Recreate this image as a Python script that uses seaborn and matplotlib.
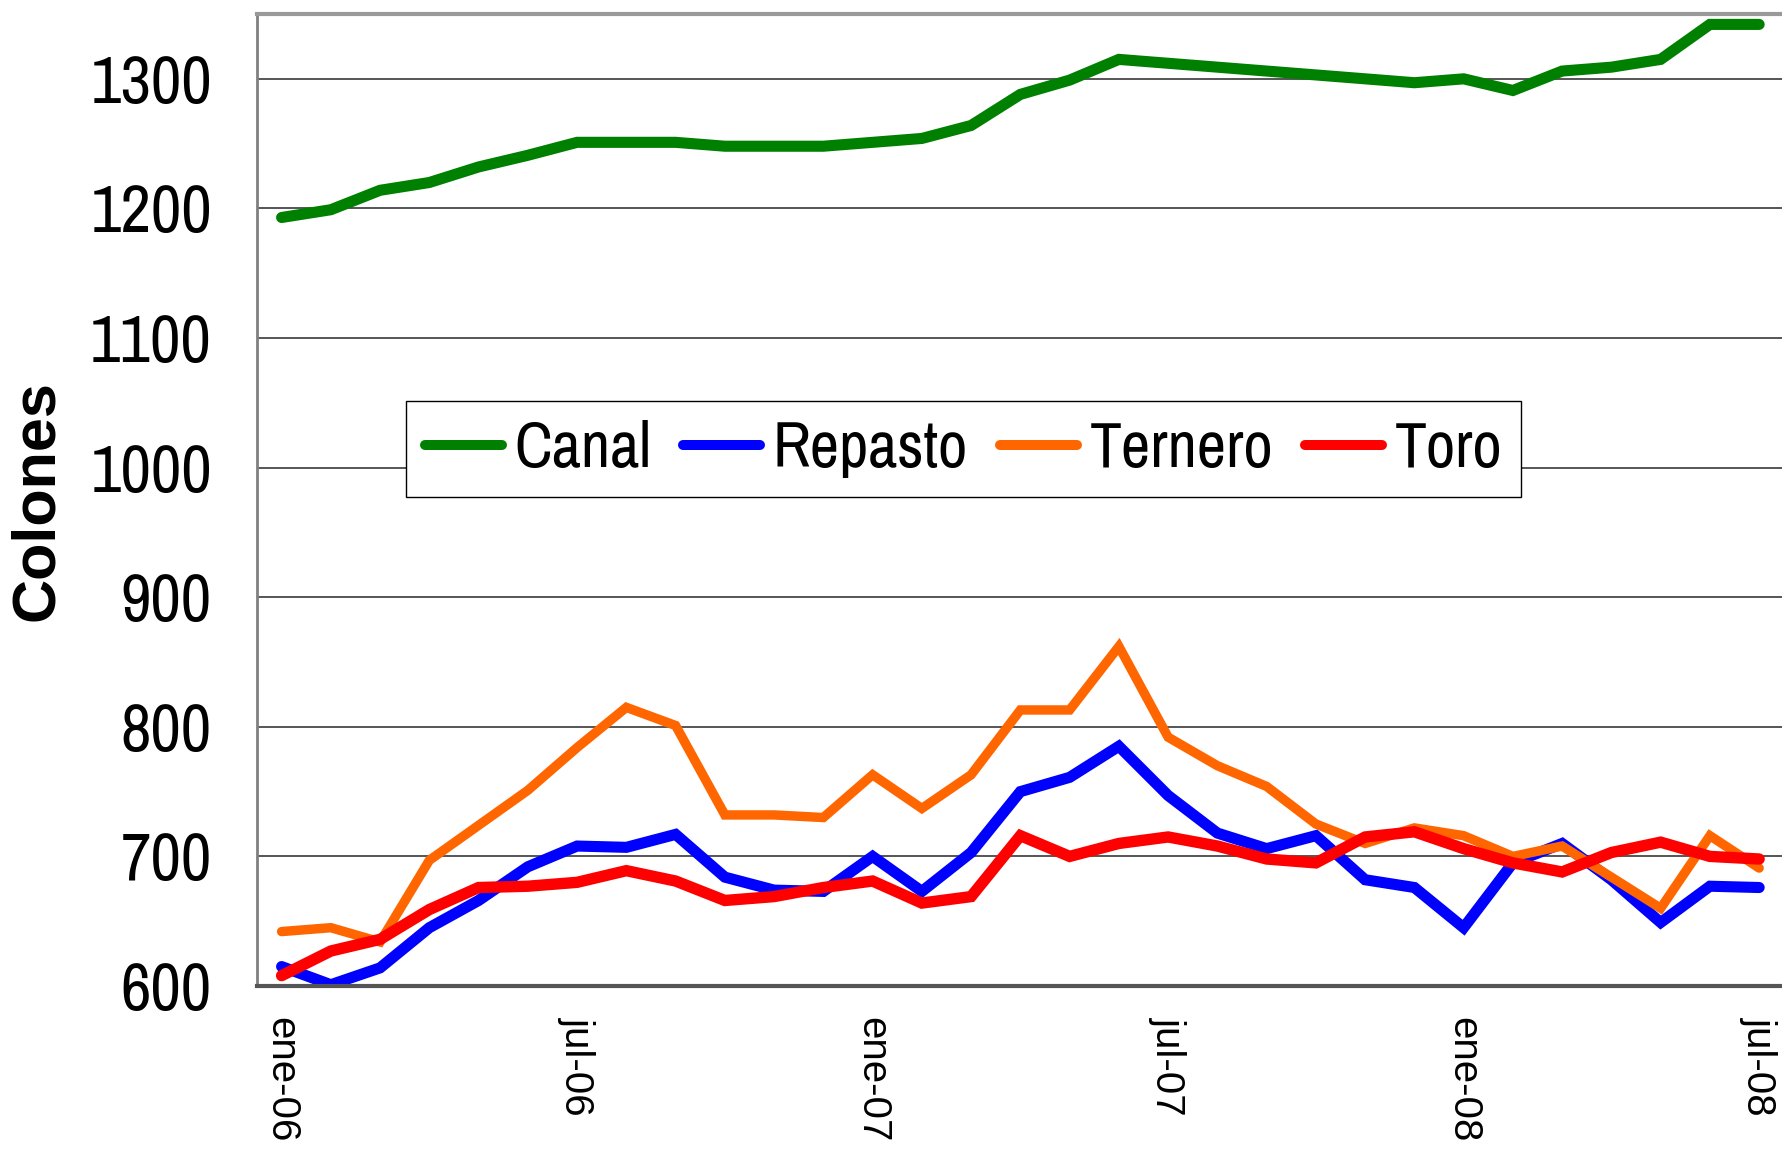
import pandas as pd
import numpy as np
import matplotlib
matplotlib.use('Agg')
import matplotlib.pyplot as plt
import seaborn as sns
from matplotlib.ticker import FixedLocator

# === Data (monthly, ene-06 .. jul-08) ===
months = ['ene-06', 'feb-06', 'mar-06', 'abr-06', 'may-06', 'jun-06',
          'jul-06', 'ago-06', 'sep-06', 'oct-06', 'nov-06', 'dic-06',
          'ene-07', 'feb-07', 'mar-07', 'abr-07', 'may-07', 'jun-07',
          'jul-07', 'ago-07', 'sep-07', 'oct-07', 'nov-07', 'dic-07',
          'ene-08', 'feb-08', 'mar-08', 'abr-08', 'may-08', 'jun-08',
          'jul-08']
canal = [1193, 1199, 1214, 1220, 1232, 1241, 1251, 1251, 1251, 1248, 1248,
         1248, 1251, 1254, 1264, 1288, 1299, 1315, 1312, 1309, 1306, 1303,
         1300, 1297, 1300, 1291, 1306, 1309, 1315, 1342, 1342]
repasto = [615, 601, 614, 645, 666, 692, 708, 707, 717, 684, 674, 673,
           700, 673, 703, 750, 761, 785, 747, 718, 706, 716, 682, 676,
           645, 695, 710, 682, 649, 677, 676]
ternero = [642, 645, 634, 697, 724, 751, 784, 815, 801, 732, 732, 730,
           763, 737, 763, 813, 813, 862, 792, 770, 754, 725, 710, 722,
           716, 700, 708, 684, 660, 716, 691]
toro = [608, 627, 636, 659, 676, 677, 680, 689, 681, 666, 669, 676,
        681, 664, 669, 716, 700, 710, 715, 708, 698, 695, 715, 719,
        706, 695, 688, 703, 711, 700, 698]

series_names = ['Canal', 'Repasto', 'Ternero', 'Toro']
series_vals = [canal, repasto, ternero, toro]
colors = ['#008000', '#0000FF', '#FF6600', '#FF0000']
widths = [8.0, 8.0, 6.8, 8.2]

tick_labels = ['ene-06', 'jul-06', 'ene-07', 'jul-07', 'ene-08', 'jul-08']

NARROW = ['Archivo Narrow', 'Liberation Sans', 'DejaVu Sans']
REGULAR = ['Liberation Sans', 'DejaVu Sans']

# === Long-form table for seaborn ===
rows = []
for name, vals in zip(series_names, series_vals):
    for i, v in enumerate(vals):
        rows.append({'idx': i, 'mes': months[i], 'serie': name, 'valor': v})
df = pd.DataFrame(rows)

sns.set_style('white')
plt.rcParams['font.family'] = REGULAR
plt.rcParams['text.color'] = 'black'
plt.rcParams['xtick.labelcolor'] = 'black'
plt.rcParams['ytick.labelcolor'] = 'black'

fig = plt.figure(figsize=(17.82, 11.5), dpi=100)
ax = fig.add_axes([0.1442, 0.1426, 0.8568, 0.8452])

for name, col, lw in zip(series_names, colors, widths):
    sub = df[df['serie'] == name]
    sns.lineplot(data=sub, x='idx', y='valor', color=col, linewidth=lw,
                 ax=ax, label=name, solid_capstyle='round', solid_joinstyle='miter')

ax.set_xlim(-0.5, len(months) - 0.5)
ax.set_ylim(600, 1350)

# y axis
ax.set_yticks(range(600, 1301, 100))
ax.tick_params(axis='y', which='major', length=11.5, width=1.5, color='#808080',
               pad=21, labelsize=48, labelfontfamily=NARROW)
for y in range(700, 1301, 100):
    ax.axhline(y, color='#555555', linewidth=1.4, zorder=0)

# x axis: labels at categories, ticks between categories
label_pos = [months.index(m) for m in tick_labels]
ax.set_xticks(label_pos)
ax.set_xticklabels(tick_labels, rotation=-90)
ax.xaxis.set_minor_locator(FixedLocator(np.arange(-0.5, len(months), 1.0)))
ax.tick_params(axis='x', which='major', length=0, pad=22, labelsize=29,
               labelfontfamily=REGULAR)
ax.tick_params(axis='x', which='minor', length=15, width=1.5, color='#333333')

ax.set_xlabel('')
ax.set_ylabel('')
fig.text(38 / 1782, 1 - 501 / 1150, 'Colones', rotation=90, ha='center', va='center',
         fontsize=44, fontweight='bold', family=REGULAR)

ax.spines['top'].set_visible(True)
ax.spines['top'].set_color('#999999')
ax.spines['top'].set_linewidth(3)
ax.spines['left'].set_color('#808080')
ax.spines['left'].set_linewidth(2)
ax.spines['bottom'].set_color('#555555')
ax.spines['bottom'].set_linewidth(3)
ax.spines['right'].set_visible(False)

leg = ax.legend(loc='center', bbox_to_anchor=(0.4627, 0.5525), ncol=4,
                prop={'family': NARROW, 'size': 46}, frameon=True, fancybox=False,
                framealpha=1, edgecolor='black', handlelength=1.2, handletextpad=0.2,
                columnspacing=0.5, borderpad=0.3)
leg.get_frame().set_linewidth(1.0)
for line in leg.get_lines():
    line.set_linewidth(7.2)
    line.set_solid_capstyle('round')

fig.savefig('out.png', dpi=100)
